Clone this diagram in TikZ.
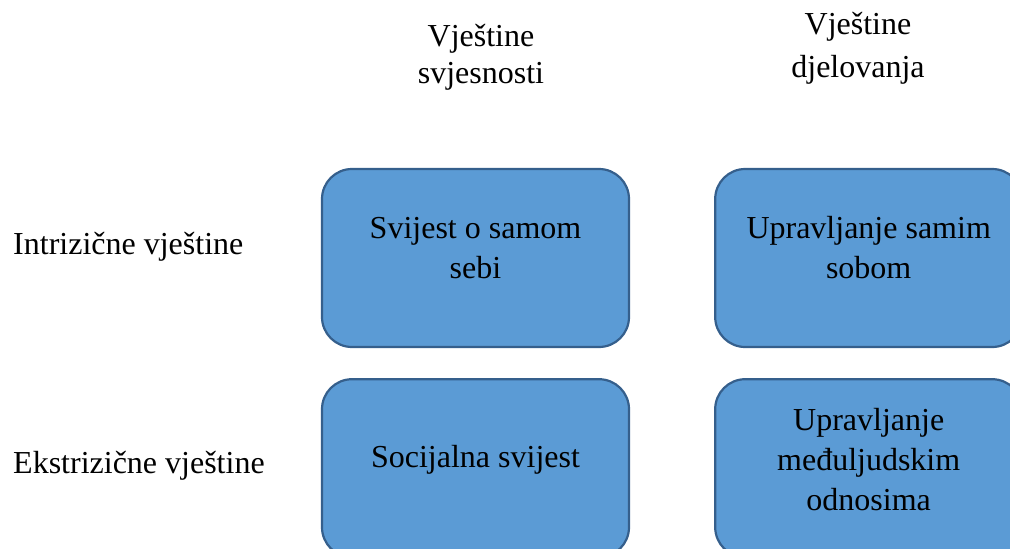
\documentclass[tikz,border=0pt]{standalone}
\usepackage{fontspec}
\setmainfont{Liberation Serif}
\usepackage{xcolor}
\usetikzlibrary{positioning}
\definecolor{boxfill}{HTML}{5B9BD5}
\definecolor{boxline}{HTML}{355F8C}
\tikzstyle{skill} = [rectangle, rounded corners=30pt, minimum width=307pt, minimum height=178pt, draw=boxline, line width=2.2pt, fill=boxfill, inner sep=0pt]
\tikzstyle{txt} = [align=center, inner sep=0pt, font=\fontsize{32}{40}\selectfont]

\begin{document}
\begin{tikzpicture}[x=1pt, y=-1pt]
    \useasboundingbox (0,0) rectangle (1010,549);
    \clip (0,0) rectangle (1010,549);
    % boxes
    \node (SelfAware) [skill] at (475.5,258) {};
    \node (SelfMgmt) [skill, right=84pt of SelfAware] {};
    \node (SocAware) [skill, below=30pt of SelfAware] {};
    \node (RelMgmt) [skill, below=30pt of SelfMgmt] {};
    \node (SelfAwareT) [txt, yshift=10pt] at (SelfAware.center) {Svijest o samom\\sebi};
    \node (SelfMgmtT) [txt, yshift=10pt] at (SelfMgmt.center) {Upravljanje samim\\sobom};
    \node (SocAwareT) [txt, yshift=8pt] at (SocAware.center) {Socijalna svijest};
    \node (RelMgmtT) [txt, yshift=9pt] at (RelMgmt.center) {Upravljanje\\međuljudskim\\odnosima};
    % headings
    \node (Awareness) [txt, font=\fontsize{32}{37}\selectfont] at (481,57) {Vještine\\svjesnosti};
    \node (Action) [txt, font=\fontsize{32}{43}\selectfont] at (858,48) {Vještine\\djelovanja};
    \node (Intra) [txt, anchor=west] at (13,247) {Intrizične vještine};
    \node (Extra) [txt, anchor=west] at (13,466) {Ekstrizične vještine};
\end{tikzpicture}
\end{document}
